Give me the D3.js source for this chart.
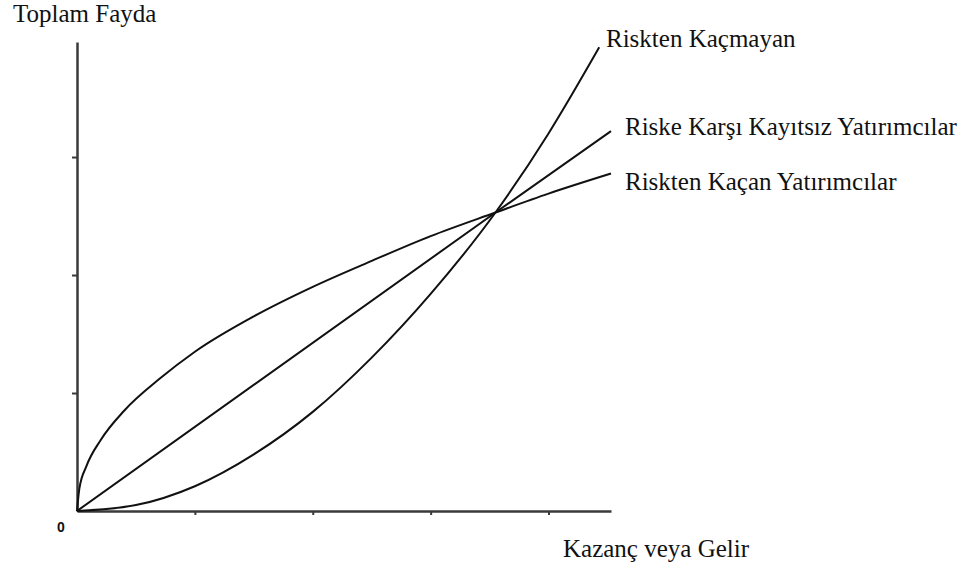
<!DOCTYPE html>
<html>
<head>
<meta charset="utf-8">
<script src="https://cdn.jsdelivr.net/npm/d3@7"></script>
<style>
  html, body { margin: 0; padding: 0; background: #fff; }
  svg { display: block; }
  .lbl { font-family: "Liberation Serif", "Times New Roman", serif; font-size: 25px; fill: #111; }
</style>
</head>
<body>
<svg id="chart" width="976" height="568"></svg>
<script>
// ---- data ----
const xTicks = [1, 2, 3, 4];
const yTicks = [1, 2, 3];

// Riskten Kaçan Yatırımcılar (concave)
const averseX = [0, 0.02, 0.08, 0.2, 0.4, 0.7, 1.0, 1.5, 2.0, 2.5, 3.0, 3.55, 4.0, 4.53];
const averseY = [0, 0.19, 0.38, 0.60, 0.85, 1.12, 1.35, 1.65, 1.90, 2.12, 2.33, 2.53, 2.69, 2.86];

// Riske Karşı Kayıtsız Yatırımcılar (linear)
const neutralX = [0, 3.55, 4.53];
const neutralY = [0, 2.53, 3.22];

// Riskten Kaçmayan (convex)
const seekingX = [0, 0.5, 1.0, 1.5, 2.0, 2.5, 3.0, 3.55, 4.0, 4.43];
const seekingY = [0, 0.05, 0.21, 0.48, 0.84, 1.30, 1.84, 2.53, 3.20, 3.93];

const labels = {
  yTitle: "Toplam Fayda",
  xTitle: "Kazanç veya Gelir",
  origin: "0",
  seeking: "Riskten Kaçmayan",
  neutral: "Riske Karşı Kayıtsız Yatırımcılar",
  averse: "Riskten Kaçan Yatırımcılar"
};

// ---- drawing ----
const svg = d3.select("#chart");
const x = d3.scaleLinear().domain([0, 4.53]).range([77, 611]);
const y = d3.scaleLinear().domain([0, 3.975]).range([511, 42]);

const axisColor = "#3a3a3a";

const gx = svg.append("g").attr("transform", `translate(0,${y(0)})`)
  .call(d3.axisBottom(x).tickValues(xTicks).tickSize(4).tickSizeOuter(0).tickFormat(""));
const gy = svg.append("g").attr("transform", `translate(${x(0)},0)`)
  .call(d3.axisLeft(y).tickValues(yTicks).tickSize(5).tickSizeOuter(0).tickFormat(""));
[gx, gy].forEach(g => {
  g.select(".domain").attr("stroke", axisColor).attr("stroke-width", 2.5);
  g.selectAll(".tick line").attr("stroke", axisColor).attr("stroke-width", 2);
});

const curves = [
  [averseX, averseY, d3.curveMonotoneX],
  [neutralX, neutralY, d3.curveLinear],
  [seekingX, seekingY, d3.curveMonotoneX]
];
curves.forEach(([xs, ys, c]) => {
  const line = d3.line().x(d => x(d[0])).y(d => y(d[1])).curve(c);
  svg.append("path")
    .datum(xs.map((v, i) => [v, ys[i]]))
    .attr("d", line)
    .attr("fill", "none")
    .attr("stroke", "#111")
    .attr("stroke-width", 2);
});

svg.append("text").attr("class", "lbl").attr("x", 13).attr("y", 22).text(labels.yTitle);
svg.append("text").attr("class", "lbl").attr("x", 563).attr("y", 557).text(labels.xTitle);
svg.append("text").attr("class", "lbl").attr("x", 606).attr("y", 47).text(labels.seeking);
svg.append("text").attr("class", "lbl").attr("x", 625).attr("y", 135).text(labels.neutral);
svg.append("text").attr("class", "lbl").attr("x", 625).attr("y", 190).text(labels.averse);
svg.append("text")
  .attr("x", 57).attr("y", 532)
  .attr("font-family", "Liberation Sans, Arial, sans-serif")
  .attr("font-size", 14).attr("font-weight", "bold").attr("fill", "#111")
  .text(labels.origin);
</script>
</body>
</html>
